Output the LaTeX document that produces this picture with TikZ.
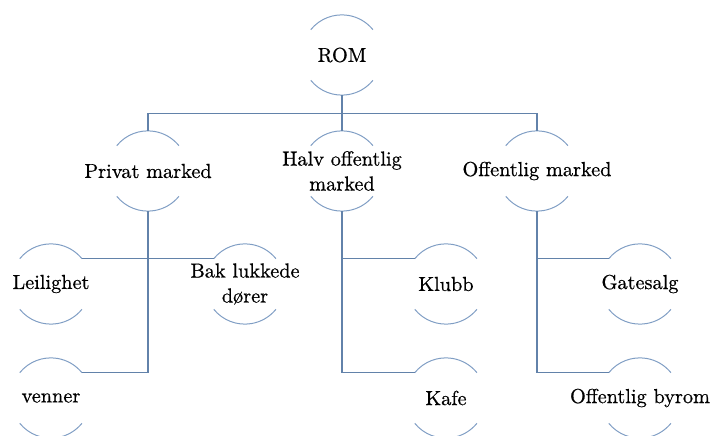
\documentclass[tikz,border=0pt]{standalone}
\usepackage{fontspec}
\usepackage{tikz}
\usepackage{xcolor}
\newfontfamily\boxfont{lmroman10-regular}[Extension=.otf,FakeBold=0.6]

\definecolor{ringblue}{RGB}{128,158,196}
\definecolor{linkblue}{RGB}{98,130,170}

\begin{document}
\begin{tikzpicture}
[x=1pt,y=1pt,
bubble/.style={circle,minimum size=80pt,inner sep=0pt,label distance=0pt},
ring/.style={ringblue,line width=1pt},
link/.style={linkblue,line width=1.3pt},
every label/.style={align=center,font=\boxfont\fontsize{20.3}{25}\selectfont},]

%Circle radius
\def\r{40pt}
\useasboundingbox (0,0) rectangle (710,436);

%Placing circles
\node (rom) at (342,381)[bubble,label=center:ROM] {};
\node (priv) at (148,265)[bubble,label=center:Privat marked] {};
\node (halv) at (342,265)[bubble,label=center:{Halv offentlig\\marked}] {};
\node (off) at (537,265)[bubble,label=center:Offentlig marked] {};
\node (leil) at (51,152)[bubble,label=center:Leilighet] {};
\node (bak) at (245,152)[bubble,label=center:{Bak lukkede\\dører}] {};
\node (venn) at (51,38)[bubble,label=center:venner] {};
\node (klubb) at (446,152)[bubble,label=center:Klubb] {};
\node (kafe) at (446,38)[bubble,label=center:Kafe] {};
\node (gate) at (640,152)[bubble,label=center:Gatesalg] {};
\node (byrom) at (640,38)[bubble,label=center:Offentlig byrom] {};

%Top and bottom arcs
\foreach \n in {rom,priv,halv,off,leil,bak,venn,klubb,kafe,gate,byrom}{
  \draw[ring] (\n.141) arc (141:39:\r);
  \draw[ring] (\n.-141) arc (-141:-39:\r);
}

%Connecting levels
\draw[link] (rom.south) -- ++(0,-18) -| (priv.north);
\draw[link] (rom.south) -- ++(0,-18) -| (off.north);
\draw[link] (rom.south) -- (halv.north);
\draw[link] (priv.south) |- (leil.39);
\draw[link] (priv.south) |- (bak.141);
\draw[link] (priv.south) |- (venn.39);
\draw[link] (halv.south) |- (klubb.141);
\draw[link] (halv.south) |- (kafe.141);
\draw[link] (off.south) |- (gate.141);
\draw[link] (off.south) |- (byrom.141);

\end{tikzpicture}
\end{document}
